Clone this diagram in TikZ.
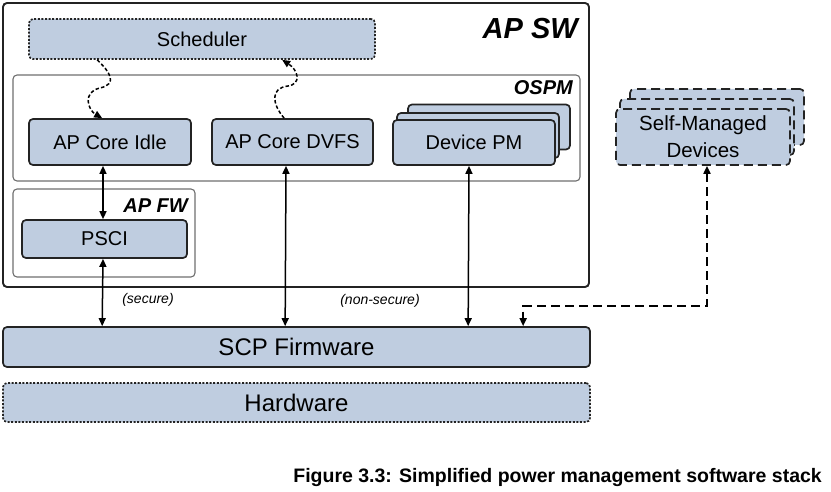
\documentclass[tikz,border=0pt]{standalone}
\usepackage{fontspec}
\setmainfont{Liberation Sans}
\usepackage{xcolor}
\usetikzlibrary{calc}
\usetikzlibrary{arrows.meta}

\definecolor{boxfill}{RGB}{191,205,224}
\definecolor{boxline}{RGB}{35,35,35}
\definecolor{groupline}{RGB}{110,110,110}

\tikzset{
    box/.style={draw=boxline, line width=1.7pt, fill=boxfill, rounded corners=4pt, inner sep=0pt, font=\fontsize{20}{24}\selectfont},
    bigbox/.style={box, font=\fontsize{24}{28}\selectfont},
    group/.style={draw=groupline, line width=1.1pt, rounded corners=4pt, inner sep=0pt},
    grouplabel/.style={font=\fontsize{20}{24}\selectfont\bfseries\itshape, inner sep=0pt, anchor=east},
    dotline/.style={dash pattern=on 2pt off 1.6pt},
    shortdash/.style={dash pattern=on 3.5pt off 2.2pt},
    longdash/.style={dash pattern=on 9pt off 5pt},
    link/.style={line width=1.5pt, >={Triangle[length=8pt,width=7pt]}},
}

\begin{document}
\begin{tikzpicture}[x=1pt,y=-1pt]
    \useasboundingbox (0,0) rectangle (831,492);

    % AP SW
    \node[group, draw=boxline, line width=1.9pt, minimum width=586pt, minimum height=284pt] (apsw) at (296,145) {};
    \node[grouplabel, font=\fontsize{29}{34}\selectfont\bfseries\itshape] (apswlabel) at (578,29) {AP SW};

    % OSPM
    \node[group, minimum width=567pt, minimum height=106pt] (ospm) at (296.5,128) {};
    \node[grouplabel] (ospmlabel) at (573,88) {OSPM};

    % AP FW
    \node[group, minimum width=182pt, minimum height=88pt] (apfw) at (104,233) {};
    \node[grouplabel] (apfwlabel) at (188,206) {AP FW};

    % Scheduler
    \node[box, dotline, minimum width=346pt, minimum height=40pt] (sched) at (202,39) {Scheduler};

    % AP core blocks
    \node[box, minimum width=162pt, minimum height=46pt] (idle) at (110,142) {AP Core Idle};
    \node[box, minimum width=161pt, minimum height=46pt] (dvfs) at (292.5,142) {AP Core DVFS};

    % Device PM (stacked)
    \node[box, minimum width=162pt, minimum height=45pt] (devpmback) at (489,127) {};
    \node[box, minimum width=162pt, minimum height=45pt] (devpmmid) at (478,135.5) {};
    \node[box, minimum width=162pt, minimum height=45pt] (devpm) at (474,142.5) {Device PM};

    % PSCI
    \node[box, minimum width=165pt, minimum height=38pt] (psci) at (104.5,239) {PSCI};

    % SCP and hardware
    \node[bigbox, minimum width=587pt, minimum height=40pt] (scp) at (296.5,347) {SCP Firmware};
    \node[bigbox, dotline, minimum width=587pt, minimum height=39pt] (hw) at (296.5,402.5) {Hardware};

    % Self-managed devices (stacked)
    \node[box, longdash, minimum width=174pt, minimum height=56pt] (selfmback) at (717,117) {};
    \node[box, longdash, minimum width=174pt, minimum height=56pt] (selfmmid) at (707,127) {};
    \node[box, longdash, minimum width=174pt, minimum height=56pt, align=center, font=\fontsize{20.5}{27}\selectfont] (selfm) at (703,137) {Self-Managed\\Devices};

    % Scheduler links
    \draw[link, ->, shortdash] ($(sched.south west)+(69,0)$) .. controls (110,72) and (118,84) .. (100,88) .. controls (82,92) and (88,110) .. ($(idle.north west)+(74,0)$);
    \draw[link, ->, shortdash] ($(dvfs.north west)+(73,0)$) .. controls (272,104) and (270,88) .. (288,86) .. controls (302,84) and (298,70) .. ($(sched.south west)+(254,0)$);

    % Links to SCP
    \draw[link, <->] ($(idle.south)+(-7,0)$) -- ($(psci.north)+(-1.5,0)$);
    \draw[link, <->] ($(psci.south)+(-1.5,0)$) -- ($(scp.north west)+(100,0)$);
    \draw[link, <->] ($(dvfs.south)+(-6.5,0)$) -- ($(scp.north west)+(283,0)$);
    \draw[link, <->] ($(devpm.south)+(-5,0)$) -- ($(scp.north west)+(466,0)$);
    \draw[link, <->, longdash, line width=1.8pt] ($(selfm.south)+(4,0)$) |- ($(scp.north west)+(521,-20)$) -- ($(scp.north west)+(521,0)$);

    \node[font=\fontsize{14}{16}\selectfont\itshape] (securelabel) at (148,300) {(secure)};
    \node[font=\fontsize{14}{16}\selectfont\itshape] (nonsecurelabel) at (380,301) {(non-secure)};

    % Caption
    \node[font=\fontsize{19.5}{23}\selectfont\bfseries, anchor=east, inner sep=0pt] (caption) at (822,477) {Figure 3.3: Simplified power management software stack};
\end{tikzpicture}
\end{document}
